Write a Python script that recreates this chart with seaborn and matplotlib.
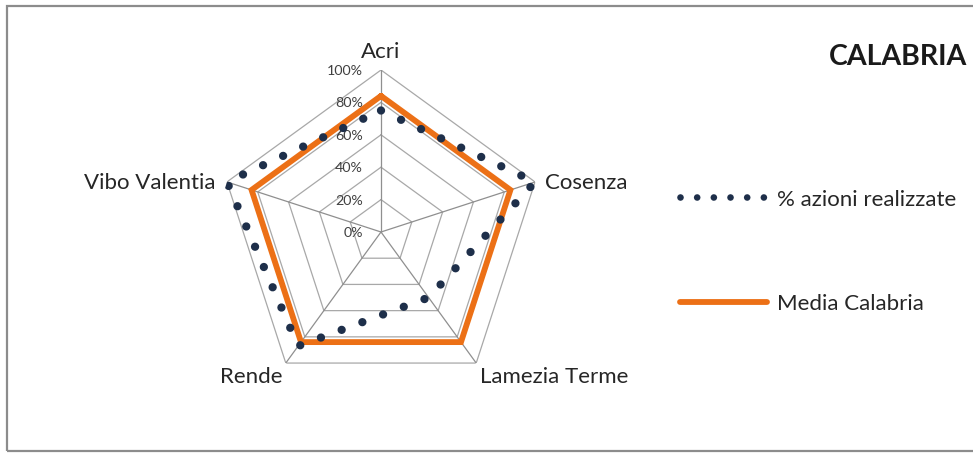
import numpy as np
import pandas as pd
import matplotlib
matplotlib.use("Agg")
import matplotlib.pyplot as plt
from matplotlib.patches import Rectangle
import seaborn as sns

categories = ["Acri", "Cosenza", "Lamezia Terme", "Rende", "Vibo Valentia"]
azioni_realizzate = [0.75, 1.00, 0.50, 0.87, 1.00]
media_calabria = [0.84, 0.84, 0.84, 0.84, 0.84]
series_names = ["% azioni realizzate", "Media Calabria"]
tick_values = [0.0, 0.2, 0.4, 0.6, 0.8, 1.0]
tick_labels = ["0%", "20%", "40%", "60%", "80%", "100%"]
title = "CALABRIA"

sns.set_theme(style="white")
plt.rcParams["font.family"] = ["Lato", "DejaVu Sans"]

W, H = 973, 456
fig = plt.figure(figsize=(W / 100, H / 100), dpi=100)
fig.patch.set_facecolor("white")

# chart frame
fig.patches.append(Rectangle((7 / W, 4 / H), 1.2, 445 / H, transform=fig.transFigure,
                             fill=False, edgecolor="#8c8c8c", linewidth=1.6))

cx, cy, R = 381, 233, 162
ax = fig.add_axes([(cx - R) / W, (H - cy - R) / H, 2 * R / W, 2 * R / H], projection="polar")
ax.set_theta_offset(np.pi / 2)
ax.set_theta_direction(-1)
ax.set_ylim(0, 1)
ax.grid(False)
ax.spines["polar"].set_visible(False)
ax.set_xticks([])
ax.set_yticks([])
ax.patch.set_alpha(0)

n = len(categories)
angles = np.linspace(0, 2 * np.pi, n, endpoint=False)
closed = np.append(angles, angles[0])

# pentagon grid
for v in tick_values[1:]:
    ax.plot(closed, [v] * (n + 1), color="#a8a8a8", lw=0.9, zorder=1)
for a in angles:
    ax.plot([a, a], [0, 1], color="#8f8f8f", lw=0.9, zorder=1)

df = pd.DataFrame({
    "theta": np.concatenate([closed, closed]),
    "r": np.concatenate([np.append(azioni_realizzate, azioni_realizzate[0]),
                         np.append(media_calabria, media_calabria[0])]),
    "serie": [series_names[0]] * (n + 1) + [series_names[1]] * (n + 1),
})

sub1 = df[df["serie"] == series_names[0]]
sub2 = df[df["serie"] == series_names[1]]
sns.lineplot(data=sub2, x="theta", y="r", sort=False, estimator=None, ax=ax,
             color="#EC7016", lw=4.2, zorder=3, label=series_names[1], legend=False)
sns.lineplot(data=sub1, x="theta", y="r", sort=False, estimator=None, ax=ax,
             color="#1e2f4a", lw=6, zorder=4, label=series_names[0], legend=False)
lines = ax.get_lines()
orange_line = lines[-2]
dot_line = lines[-1]
dot_line.set_linestyle((0, (0.001, 2.65)))
dot_line.set_dash_capstyle("round")
orange_line.set_solid_joinstyle("miter")
ax.set_xlabel("")
ax.set_ylabel("")
ax.set_ylim(0, 1)

# radial tick labels
for v, lab in zip(tick_values, tick_labels):
    ax.annotate(lab, xy=(0, v), xytext=(-18, 0), textcoords="offset pixels",
                ha="right", va="center", fontsize=10.3, color="#404040")

# category labels
offsets = [(0, 13, "center", "baseline"), (10, 0, "left", "center"),
           (4, -3, "left", "top"), (-3, -3, "right", "top"), (-11, 0, "right", "center")]
for a, lab, (dx, dy, ha, va) in zip(angles, categories, offsets):
    ax.annotate(lab, xy=(a, 1.0), xytext=(dx, dy), textcoords="offset pixels",
                ha=ha, va=va, fontsize=16, color="#262626")

fig.text(829 / W, 1 - 57 / H, title, fontsize=20.5, fontweight="bold",
         ha="left", va="center", color="#1a1a1a")

leg = fig.legend(handles=[dot_line, orange_line], labels=series_names,
                 loc="upper left", bbox_to_anchor=(680 / W, 1 - 190 / H),
                 frameon=False, fontsize=16, handlelength=3.9, handletextpad=0.45,
                 labelspacing=3.8, borderpad=0, borderaxespad=0)
for t in leg.get_texts():
    t.set_color("#262626")
lh = leg.get_lines()
lh[0].set_linewidth(4.8)
lh[0].set_linestyle((0, (0.001, 2.5)))
lh[0].set_dash_capstyle("round")

fig.savefig("out.png", dpi=100, facecolor="white")
